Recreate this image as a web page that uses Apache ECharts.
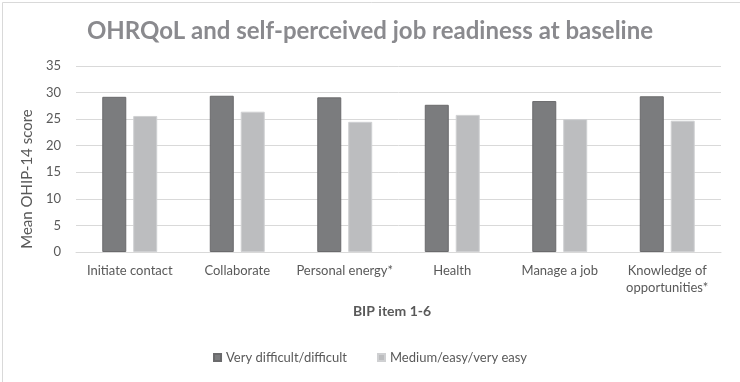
<!DOCTYPE html>
<html>
<head>
<meta charset="utf-8">
<script src="https://cdn.jsdelivr.net/npm/echarts@6/dist/echarts.min.js"></script>
<style>
html,body{margin:0;padding:0;background:#fff;}
#chart{width:740px;height:382px;}
</style>
</head>
<body>
<div id="chart"></div>
<script>
const titleText = 'OHRQoL and self-perceived job readiness at baseline';
const categories = ['Initiate contact', 'Collaborate', 'Personal energy*', 'Health', 'Manage a job', 'Knowledge of\nopportunities*'];
const seriesNames = ['Very difficult/difficult', 'Medium/easy/very easy'];
const veryDifficult = [29.2, 29.4, 29.1, 27.7, 28.4, 29.3];
const mediumEasy = [25.6, 26.4, 24.5, 25.8, 25.0, 24.7];
const yTicks = [0, 5, 10, 15, 20, 25, 30, 35];
const yAxisTitle = 'Mean OHIP-14 score';
const xAxisTitle = 'BIP item 1-6';

const FONT = 'Lato, "Open Sans", sans-serif';
const chart = echarts.init(document.getElementById('chart'), null, {renderer: 'canvas'});
chart.setOption({
  backgroundColor: '#ffffff',
  animation: false,
  textStyle: {fontFamily: FONT},
  graphic: [{
    type: 'rect', left: 0, top: 0, silent: true,
    shape: {x: 0.5, y: 0.5, width: 739, height: 381},
    style: {fill: 'none', stroke: '#d9d9d9', lineWidth: 1}
  }],
  title: {
    text: titleText,
    left: 'center',
    top: 14,
    textStyle: {fontFamily: FONT, fontSize: 24, fontWeight: 'bold', color: '#8a8a8e'}
  },
  legend: {
    data: seriesNames,
    left: 'center',
    top: 346,
    itemWidth: 7,
    itemHeight: 7,
    itemGap: 30,
    icon: 'rect',
    textStyle: {fontFamily: FONT, fontSize: 13, color: '#595959'}
  },
  grid: {left: 76, right: 19, top: 66, bottom: 130, containLabel: false},
  xAxis: {
    type: 'category',
    data: categories,
    name: xAxisTitle,
    nameLocation: 'middle',
    nameGap: 52,
    nameTextStyle: {fontFamily: FONT, fontSize: 14, fontWeight: 'bold', color: '#595959', padding: [0, 13, 0, 0]},
    axisLine: {show: true, lineStyle: {color: '#d9d9d9', width: 1}},
    axisTick: {show: false},
    axisLabel: {fontFamily: FONT, fontSize: 13, color: '#595959', margin: 10, lineHeight: 17, interval: 0}
  },
  yAxis: {
    type: 'value',
    min: yTicks[0],
    max: yTicks[yTicks.length - 1],
    interval: 5,
    name: yAxisTitle,
    nameLocation: 'middle',
    nameGap: 38,
    nameTextStyle: {fontFamily: FONT, fontSize: 15, color: '#595959', padding: [0, 40, 0, 0]},
    axisLine: {show: false},
    axisTick: {show: false},
    axisLabel: {fontFamily: FONT, fontSize: 13, color: '#595959', margin: 15},
    splitLine: {show: true, lineStyle: {color: '#d9d9d9', width: 1}}
  },
  series: [
    {
      name: seriesNames[0],
      type: 'bar',
      data: veryDifficult,
      barWidth: 24,
      barGap: '29%',
      itemStyle: {color: '#7b7c7e', borderColor: '#6a6a6c', borderWidth: 1}
    },
    {
      name: seriesNames[1],
      type: 'bar',
      data: mediumEasy,
      barWidth: 24,
      barGap: '29%',
      itemStyle: {color: '#bcbdbf', borderColor: '#cfd0d2', borderWidth: 1}
    }
  ]
});
</script>
</body>
</html>
